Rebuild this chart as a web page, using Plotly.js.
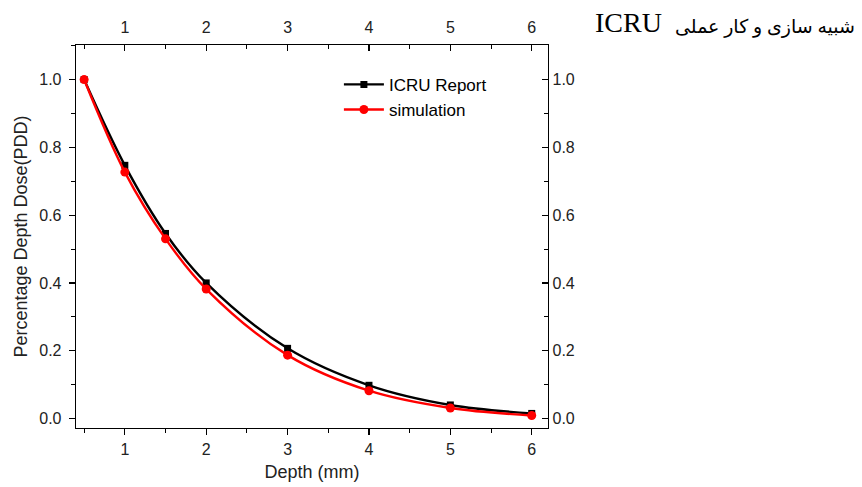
<!DOCTYPE html>
<html>
<head>
<meta charset="utf-8">
<script src="https://cdn.plot.ly/plotly-3.0.1.min.js"></script>
<style>html,body{margin:0;padding:0;background:#fff;}#chart{width:862px;height:487px;}</style>
</head>
<body>
<div id="chart"></div>
<script>
var depth = [0.5, 1, 1.5, 2, 3, 4, 5, 6];
var icruReport = [1.0, 0.747, 0.546, 0.400, 0.207, 0.098, 0.040, 0.015];
var simulation = [1.0, 0.727, 0.530, 0.382, 0.187, 0.082, 0.031, 0.009];
var xTicks = [1, 2, 3, 4, 5, 6];
var yTicks = [0.0, 0.2, 0.4, 0.6, 0.8, 1.0];
var yTickText = ["0.0", "0.2", "0.4", "0.6", "0.8", "1.0"];

var fontFam = "Liberation Sans, Arial, sans-serif";
var traces = [
  {x: depth, y: icruReport, name: "ICRU Report", type: "scatter", mode: "lines+markers",
   line: {color: "#000000", width: 2.4, shape: "spline", smoothing: 1},
   marker: {symbol: "square", size: 7, color: "#000000"}},
  {x: depth, y: simulation, name: "simulation", type: "scatter", mode: "lines+markers",
   line: {color: "#ff0000", width: 2.4, shape: "spline", smoothing: 1},
   marker: {symbol: "circle", size: 9, color: "#ff0000"}},
  {x: [], y: [], xaxis: "x2", yaxis: "y2", showlegend: false, hoverinfo: "skip"}
];

var xr = [0.4, 6.2], yr = [-0.028, 1.102];
function ax(extra) {
  return Object.assign({showgrid: false, zeroline: false, showline: true, linecolor: "#000", linewidth: 1.3,
    tickcolor: "#000", tickwidth: 1.2, ticklen: 6, automargin: false,
    tickfont: {family: fontFam, size: 16, color: "#222"}}, extra);
}

var layout = {
  width: 862, height: 487,
  margin: {l: 76, r: 314, t: 45, b: 59},
  paper_bgcolor: "#fff", plot_bgcolor: "#fff",
  showlegend: true,
  legend: {x: 0.557, y: 0.943, xanchor: "left", yanchor: "top", bgcolor: "rgba(0,0,0,0)",
    font: {family: fontFam, size: 17, color: "#000"}, tracegroupgap: 0, itemwidth: 40},
  xaxis: ax({range: xr, tickvals: xTicks, ticks: "outside",
    minor: {dtick: 0.5, tick0: 0, ticks: "outside", ticklen: 4, tickcolor: "#000", tickwidth: 1},
    title: {text: "Depth (mm)", font: {family: fontFam, size: 18, color: "#222"}, standoff: 9}}),
  yaxis: ax({range: yr, tickvals: yTicks, ticktext: yTickText, ticks: "outside", ticklabelstandoff: 4,
    minor: {dtick: 0.1, tick0: 0, ticks: "outside", ticklen: 4, tickcolor: "#000", tickwidth: 1},
    title: {text: "Percentage Depth Dose(PDD)", font: {family: fontFam, size: 18, color: "#222"}, standoff: 7}}),
  xaxis2: ax({range: xr, tickvals: xTicks, ticks: "inside", side: "top", ticklabelstandoff: 4,
    overlaying: "x", anchor: "y",
    minor: {dtick: 0.5, tick0: 0, ticks: "inside", ticklen: 4, tickcolor: "#000", tickwidth: 1}}),
  yaxis2: ax({range: yr, tickvals: yTicks, ticktext: yTickText, ticks: "inside", side: "right",
    overlaying: "y", anchor: "x",
    minor: {dtick: 0.1, tick0: 0, ticks: "inside", ticklen: 4, tickcolor: "#000", tickwidth: 1}}),
  annotations: [
    {xref: "paper", yref: "paper", x: 1.655, y: 1.012, xanchor: "right", yanchor: "bottom",
     text: "شبیه سازی و کار عملی", showarrow: false,
     font: {family: "Liberation Serif, DejaVu Serif, DejaVu Sans, serif", size: 19, color: "#000"}},
    {xref: "paper", yref: "paper", x: 1.095, y: 1.012, xanchor: "left", yanchor: "bottom",
     text: "ICRU", showarrow: false,
     font: {family: "Liberation Serif, Times New Roman, serif", size: 28, color: "#000"}}
  ]
};

Plotly.newPlot("chart", traces, layout, {displayModeBar: false, staticPlot: true});
</script>
</body>
</html>
